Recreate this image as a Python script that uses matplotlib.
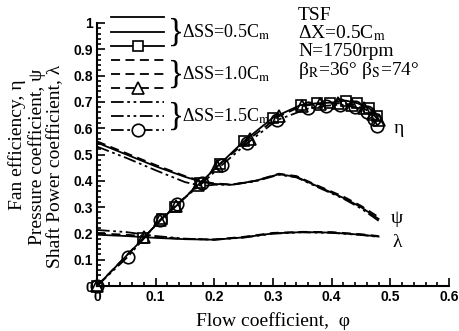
import matplotlib
matplotlib.use("Agg")
import matplotlib.pyplot as plt
from matplotlib.lines import Line2D
from matplotlib.ticker import MultipleLocator

plt.rcParams['font.family'] = ['Liberation Serif', 'DejaVu Serif']
plt.rcParams['mathtext.fontset'] = 'stix'

# Fan efficiency (eta) for the three stator spacings
phi_eta_05 = [0, 0.079, 0.11, 0.133, 0.175, 0.21, 0.25, 0.30, 0.347, 0.375, 0.398, 0.424, 0.444, 0.464, 0.478]
eta_05 = [0, 0.181, 0.255, 0.30, 0.39, 0.465, 0.55, 0.64, 0.688, 0.695, 0.697, 0.705, 0.695, 0.676, 0.645]
phi_eta_10 = [0, 0.08, 0.108, 0.135, 0.172, 0.205, 0.26, 0.31, 0.35, 0.38, 0.41, 0.435, 0.455, 0.47, 0.48]
eta_10 = [0, 0.185, 0.25, 0.305, 0.385, 0.455, 0.56, 0.645, 0.685, 0.692, 0.695, 0.69, 0.675, 0.655, 0.63]
phi_eta_15 = [0, 0.0525, 0.1077, 0.137, 0.179, 0.213, 0.256, 0.307, 0.36, 0.39, 0.415, 0.44, 0.46, 0.472, 0.478]
eta_15 = [0, 0.111, 0.251, 0.312, 0.39, 0.46, 0.543, 0.631, 0.675, 0.685, 0.69, 0.68, 0.66, 0.635, 0.61]

# Pressure coefficient (psi)
phi_psi = [0, 0.05, 0.1, 0.15, 0.18, 0.2, 0.23, 0.27, 0.31, 0.34, 0.38, 0.42, 0.45, 0.48]
psi_05 = [0.545, 0.50, 0.455, 0.415, 0.395, 0.388, 0.385, 0.40, 0.425, 0.415, 0.375, 0.335, 0.30, 0.255]
psi_10 = [0.55, 0.505, 0.46, 0.418, 0.398, 0.39, 0.386, 0.40, 0.427, 0.418, 0.378, 0.34, 0.305, 0.262]
psi_15 = [0.53, 0.487, 0.44, 0.395, 0.38, 0.385, 0.385, 0.398, 0.423, 0.413, 0.372, 0.332, 0.295, 0.248]

# Shaft power coefficient (lambda)
phi_lam = [0, 0.05, 0.1, 0.15, 0.2, 0.25, 0.3, 0.35, 0.4, 0.45, 0.48]
lam_05 = [0.195, 0.19, 0.183, 0.178, 0.176, 0.185, 0.2, 0.205, 0.203, 0.195, 0.188]
lam_10 = [0.2, 0.195, 0.186, 0.179, 0.177, 0.187, 0.202, 0.206, 0.205, 0.197, 0.19]
lam_15 = [0.213, 0.205, 0.19, 0.18, 0.176, 0.184, 0.199, 0.204, 0.202, 0.194, 0.187]

spacings = ['0.5', '1.0', '1.5']
styles = ['-', (0, (5, 3)), (0, (7, 2, 1.5, 2, 1.5, 2))]
markers = ['s', '^', 'o']
msizes = [7, 8, 9]

W, H = 460, 331
fig = plt.figure(figsize=(W / 100, H / 100), dpi=100)
ax = fig.add_axes([97 / W, 1 - 286 / H, 352 / W, 263 / H])


def fx(px):
    return px / W


def fy(py):
    return 1 - py / H


eta_sets = [(phi_eta_05, eta_05), (phi_eta_10, eta_10), (phi_eta_15, eta_15)]
psi_sets = [psi_05, psi_10, psi_15]
lam_sets = [lam_05, lam_10, lam_15]

for i in range(3):
    ls = styles[i]
    ax.plot(phi_psi, psi_sets[i], color='k', lw=1.3, ls=ls)
    ax.plot(phi_lam, lam_sets[i], color='k', lw=1.3, ls=ls)
    px, py = eta_sets[i]
    ax.plot(px, py, color='k', lw=1.3, ls=ls, marker=markers[i], ms=msizes[i],
            mfc='none', mec='k', mew=1.2, clip_on=False)

ax.set_xlim(0, 0.6)
ax.set_ylim(0, 1)
ax.xaxis.set_minor_locator(MultipleLocator(0.02))
ax.yaxis.set_minor_locator(MultipleLocator(0.02))
ax.set_xticks([0, 0.1, 0.2, 0.3, 0.4, 0.5, 0.6])
ax.set_xticklabels(['0', '0.1', '0.2', '0.3', '0.4', '0.5', '0.6'])
ax.set_yticks([0, 0.1, 0.2, 0.3, 0.4, 0.5, 0.6, 0.7, 0.8, 0.9, 1.0])
ax.set_yticklabels(['0', '0.1', '0.2', '0.3', '0.4', '0.5', '0.6', '0.7', '0.8', '0.9', '1'])
ax.tick_params(which='both', direction='in', width=1.2, top=False, right=False)
ax.tick_params(which='major', length=6, pad=3)
ax.tick_params(which='minor', length=3)
for lab in ax.get_xticklabels() + ax.get_yticklabels():
    lab.set_family(['Liberation Sans', 'DejaVu Sans'])
    lab.set_fontweight('bold')
    lab.set_fontsize(10)
ax.spines['top'].set_visible(False)
ax.spines['right'].set_visible(False)
ax.spines['left'].set_linewidth(1.5)
ax.spines['bottom'].set_linewidth(1.5)

# curve labels
ax.text(0.505, 0.60, 'η', fontsize=14, va='center', ha='left')
ax.text(0.50, 0.255, 'ψ', fontsize=14, va='center', ha='left')
ax.text(0.503, 0.167, 'λ', fontsize=14, va='center', ha='left')

ax.set_xlabel('Flow coefficient,  φ', fontsize=14, labelpad=6)

# stacked y labels
ylabels = [('Fan efficiency, η', 17, 145), ('Pressure coefficient, ψ', 37, 157),
           ('Shaft Power coefficient, λ', 56, 166)]
for txt, x, y in ylabels:
    fig.text(fx(x), fy(y), txt, rotation=90, fontsize=14, ha='center', va='center')

# hand-made legend: three line samples per spacing
row_y = [17, 32, 46, 60, 74, 88, 102, 116, 130]
for g in range(3):
    for k in range(3):
        y = fy(row_y[3 * g + k])
        fig.add_artist(Line2D([fx(111), fx(164)], [y, y], color='k', lw=1.3, ls=styles[g]))
        if k == 2:
            fig.add_artist(Line2D([fx(138)], [y], marker=markers[g], ms=msizes[g],
                                  mfc='white', mec='k', mew=1.2))
    yc = fy(row_y[3 * g + 1])
    fig.text(fx(168), yc, '}', fontsize=24, ha='left', va='center')
    fig.text(fx(182), yc, 'ΔSS=' + spacings[g] + 'C$_\\mathrm{m}$', fontsize=13,
             ha='left', va='center')

info = ['TSF', 'ΔX=0.5C$_\\mathrm{m}$', 'N=1750rpm',
        'β$_\\mathrm{R}$=36° β$_\\mathrm{S}$=74°']
for j, t in enumerate(info):
    fig.text(fx(298), fy(15 + 18.5 * j), t, fontsize=14, ha='left', va='center')

fig.savefig('out.png', dpi=100)
